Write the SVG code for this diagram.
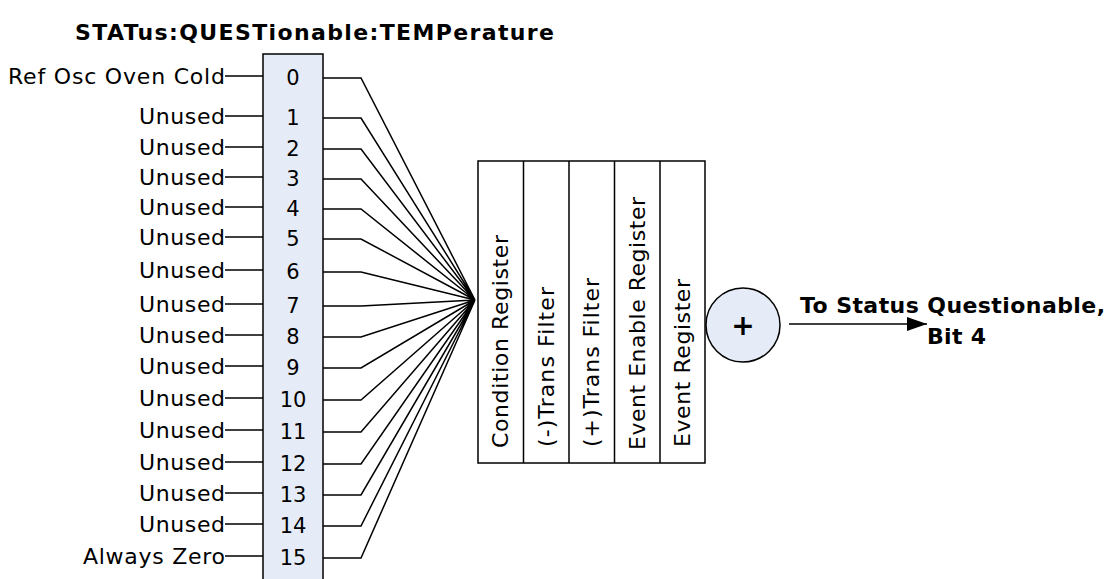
<svg xmlns="http://www.w3.org/2000/svg" width="1117" height="579" viewBox="0 0 1117 579">
<style>
.t{font-family:"DejaVu Sans","Liberation Sans",sans-serif;font-size:22px;fill:#000}
.b{font-family:"DejaVu Sans","Liberation Sans",sans-serif;font-size:22px;font-weight:bold;fill:#000}
.d{font-family:"DejaVu Sans","Liberation Sans",sans-serif;font-size:21px;fill:#000;text-anchor:middle}
.ln{stroke:#000;stroke-width:1.5;fill:none}
.box{fill:#E6ECF7;stroke:#000;stroke-width:1.5}
</style>
<defs>
<marker id="ah2" viewBox="0 0 20 14" refX="20" refY="7" markerWidth="20" markerHeight="14" markerUnits="userSpaceOnUse" orient="auto">
<path d="M0,0 L20,7 L0,14 Z" fill="#000"/>
</marker>
</defs>
<text class="b" x="75" y="40" textLength="479" lengthAdjust="spacing">STATus:QUESTionable:TEMPerature</text>

<g id="bits">
<path class="box" d="M263,579 V54 H323 V579"/>
<text class="d" x="293" y="85">0</text>
<text class="d" x="293" y="125">1</text>
<text class="d" x="293" y="156">2</text>
<text class="d" x="293" y="186">3</text>
<text class="d" x="293" y="216">4</text>
<text class="d" x="293" y="246">5</text>
<text class="d" x="293" y="279">6</text>
<text class="d" x="293" y="313">7</text>
<text class="d" x="293" y="344">8</text>
<text class="d" x="293" y="375">9</text>
<text class="d" x="293" y="407">10</text>
<text class="d" x="293" y="439">11</text>
<text class="d" x="293" y="471">12</text>
<text class="d" x="293" y="502">13</text>
<text class="d" x="293" y="533">14</text>
<text class="d" x="293" y="565">15</text>
</g>

<g id="labels">
<text class="t" x="8" y="84" textLength="217" lengthAdjust="spacing">Ref Osc Oven Cold</text>
<text class="t" x="139" y="124" textLength="86" lengthAdjust="spacing">Unused</text>
<text class="t" x="139" y="155" textLength="86" lengthAdjust="spacing">Unused</text>
<text class="t" x="139" y="185" textLength="86" lengthAdjust="spacing">Unused</text>
<text class="t" x="139" y="215" textLength="86" lengthAdjust="spacing">Unused</text>
<text class="t" x="139" y="245" textLength="86" lengthAdjust="spacing">Unused</text>
<text class="t" x="139" y="278" textLength="86" lengthAdjust="spacing">Unused</text>
<text class="t" x="139" y="312" textLength="86" lengthAdjust="spacing">Unused</text>
<text class="t" x="139" y="343" textLength="86" lengthAdjust="spacing">Unused</text>
<text class="t" x="139" y="374" textLength="86" lengthAdjust="spacing">Unused</text>
<text class="t" x="139" y="406" textLength="86" lengthAdjust="spacing">Unused</text>
<text class="t" x="139" y="438" textLength="86" lengthAdjust="spacing">Unused</text>
<text class="t" x="139" y="470" textLength="86" lengthAdjust="spacing">Unused</text>
<text class="t" x="139" y="501" textLength="86" lengthAdjust="spacing">Unused</text>
<text class="t" x="139" y="532" textLength="86" lengthAdjust="spacing">Unused</text>
<text class="t" x="83" y="564" textLength="142" lengthAdjust="spacing">Always Zero</text>
</g>

<g id="registers">
<rect x="478" y="161" width="227" height="302" fill="#fff" stroke="#000" stroke-width="1.5"/>
<path class="ln" d="M523.5,161 V463 M569,161 V463 M614.5,161 V463 M660,161 V463"/>
<text class="t" transform="translate(508,448) rotate(-90)" textLength="213" lengthAdjust="spacing">Condition Register</text>
<text class="t" transform="translate(554,447) rotate(-90)" textLength="160" lengthAdjust="spacing">(-)Trans Filter</text>
<text class="t" transform="translate(599,447) rotate(-90)" textLength="169" lengthAdjust="spacing">(+)Trans Filter</text>
<text class="t" transform="translate(645,450) rotate(-90)" textLength="253" lengthAdjust="spacing">Event Enable Register</text>
<text class="t" transform="translate(690,447) rotate(-90)" textLength="168" lengthAdjust="spacing">Event Register</text>
</g>

<g id="summary">
<circle cx="743" cy="325" r="37" fill="#E6ECF7" stroke="#000" stroke-width="1.5"/>
<text class="b" x="743" y="335" text-anchor="middle" style="font-size:28px">+</text>
</g>

<g id="output-label">
<text class="b" x="800" y="313" textLength="305" lengthAdjust="spacing">To Status Questionable,</text>
<text class="b" x="927" y="344" textLength="59" lengthAdjust="spacing">Bit 4</text>
</g>

<g id="connectors">
<path class="ln" d="M225,76 H263 M225,116 H263 M225,147 H263 M225,177 H263 M225,207 H263 M225,237 H263 M225,270 H263 M225,304 H263 M225,335 H263 M225,366 H263 M225,398 H263 M225,430 H263 M225,462 H263 M225,493 H263 M225,524 H263 M225,556 H263"/>
<path class="ln" d="M323,78 H361 L475,300 M323,118 H361 L475,300 M323,149 H361 L475,300 M323,179 H361 L475,300 M323,209 H361 L475,300 M323,239 H361 L475,300 M323,272 H361 L475,300 M323,306 H361 L475,300 M323,337 H361 L475,300 M323,368 H361 L475,300 M323,400 H361 L475,300 M323,432 H361 L475,300 M323,464 H361 L475,300 M323,495 H361 L475,300 M323,526 H361 L475,300 M323,558 H361 L475,300"/>
<line class="ln" x1="789" y1="324" x2="927" y2="324" stroke-width="2" marker-end="url(#ah2)"/>
</g>
</svg>
